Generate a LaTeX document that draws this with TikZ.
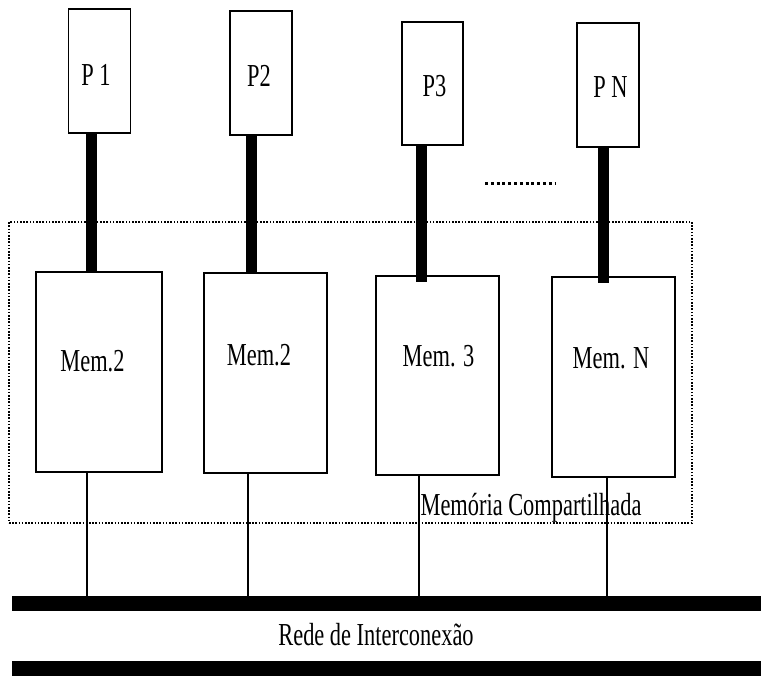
\documentclass[tikz,border=0pt]{standalone}
\usepackage{fontspec}
\setmainfont{Liberation Serif}
\usepackage{graphicx}
% narrow serif lettering
\newcommand{\cond}[1]{\scalebox{0.7}[1]{#1}}

\tikzset{
  proc/.style={draw, line width=1.3pt, inner sep=0pt, minimum width=62pt, minimum height=124pt},
  membox/.style={draw, line width=1.3pt, inner sep=0pt, minimum width=123pt, minimum height=200pt},
  lbl/.style={anchor=base, inner sep=0pt, font=\fontsize{32}{36}\selectfont},
  stem/.style={line width=11pt},
  wire/.style={line width=1.6pt},
  bar/.style={fill=black, inner sep=0pt, minimum width=749pt, minimum height=15pt},
  frame/.style={draw, line width=1.2pt, dash pattern=on 1.6pt off 1.6pt, inner sep=0pt,
                minimum width=683pt, minimum height=301pt},
}

\begin{document}
\begin{tikzpicture}[x=1pt, y=-1pt]
\useasboundingbox (0,0) rectangle (761,676);

% shared memory region
\node[frame] (shm) at (350.5,372.5) {};

% processors
\node[proc] (P1) at (99.5,71) {};
\node[proc] (P2) at (261,73) {};
\node[proc, minimum width=61pt, minimum height=123pt] (P3) at (432.5,83.5) {};
\node[proc] (PN) at (608,85) {};

% memory modules
\node[membox, minimum width=126pt] (M1) at (99,372) {};
\node[membox] (M2) at (265.5,373) {};
\node[membox, minimum height=199pt] (M3) at (437.5,375.5) {};
\node[membox] (MN) at (613.5,377) {};

% interconnection network bars
\node[bar] (bus) at (386.5,603.5) {};
\node[bar] (bus2) at (386.5,668.5) {};

% labels
\node[lbl] (tP1) at (96,86) {\cond{P 1}};
\node[lbl] (tP2) at (259,87) {\cond{P2}};
\node[lbl] (tP3) at (434.5,97) {\cond{P3}};
\node[lbl] (tPN) at (610.5,98) {\cond{P N}};
\node[lbl] (tM1) at (92.5,372) {\cond{Mem.2}};
\node[lbl] (tM2) at (259,366) {\cond{Mem.2}};
\node[lbl] (tM3) at (438.5,367) {\cond{Mem. 3}};
\node[lbl] (tMN) at (611,369) {\cond{Mem. N}};
\node[lbl] (tshm) at (531,515) {\cond{Memória Compartilhada}};
\node[lbl] (tbus) at (376,645) {\cond{Rede de Interconexão}};

% processor-to-memory links
\draw[stem] ([xshift=-8.5pt]P1.south) -- ([xshift=-8.5pt]P1.south |- M1.north);
\draw[stem] ([xshift=-10pt]P2.south) -- ([xshift=-10pt]P2.south |- M2.north);
\draw[stem] ([xshift=-11.5pt]P3.south) -- ([xshift=-11.5pt,yshift=-7pt]P3.south |- M3.north);
\draw[stem] ([xshift=-5pt]PN.south) -- ([xshift=-5pt,yshift=-7pt]PN.south |- MN.north);

% memory-to-network links
\draw[wire] ([xshift=-12pt]M1.south) -- ([xshift=-12pt]M1.south |- bus.north);
\draw[wire] ([xshift=-17.5pt]M2.south) -- ([xshift=-17.5pt]M2.south |- bus.north);
\draw[wire] ([xshift=-18.5pt]M3.south) -- ([xshift=-18.5pt]M3.south |- bus.north);
\draw[wire] ([xshift=-6.5pt]MN.south) -- ([xshift=-6.5pt]MN.south |- bus.north);

% ellipsis between processors
\coordinate (d1) at (485,184);
\coordinate (d2) at (555,184);
\draw[line width=3pt, dash pattern=on 3pt off 2.8pt] (d1) -- (d2);
\end{tikzpicture}
\end{document}
